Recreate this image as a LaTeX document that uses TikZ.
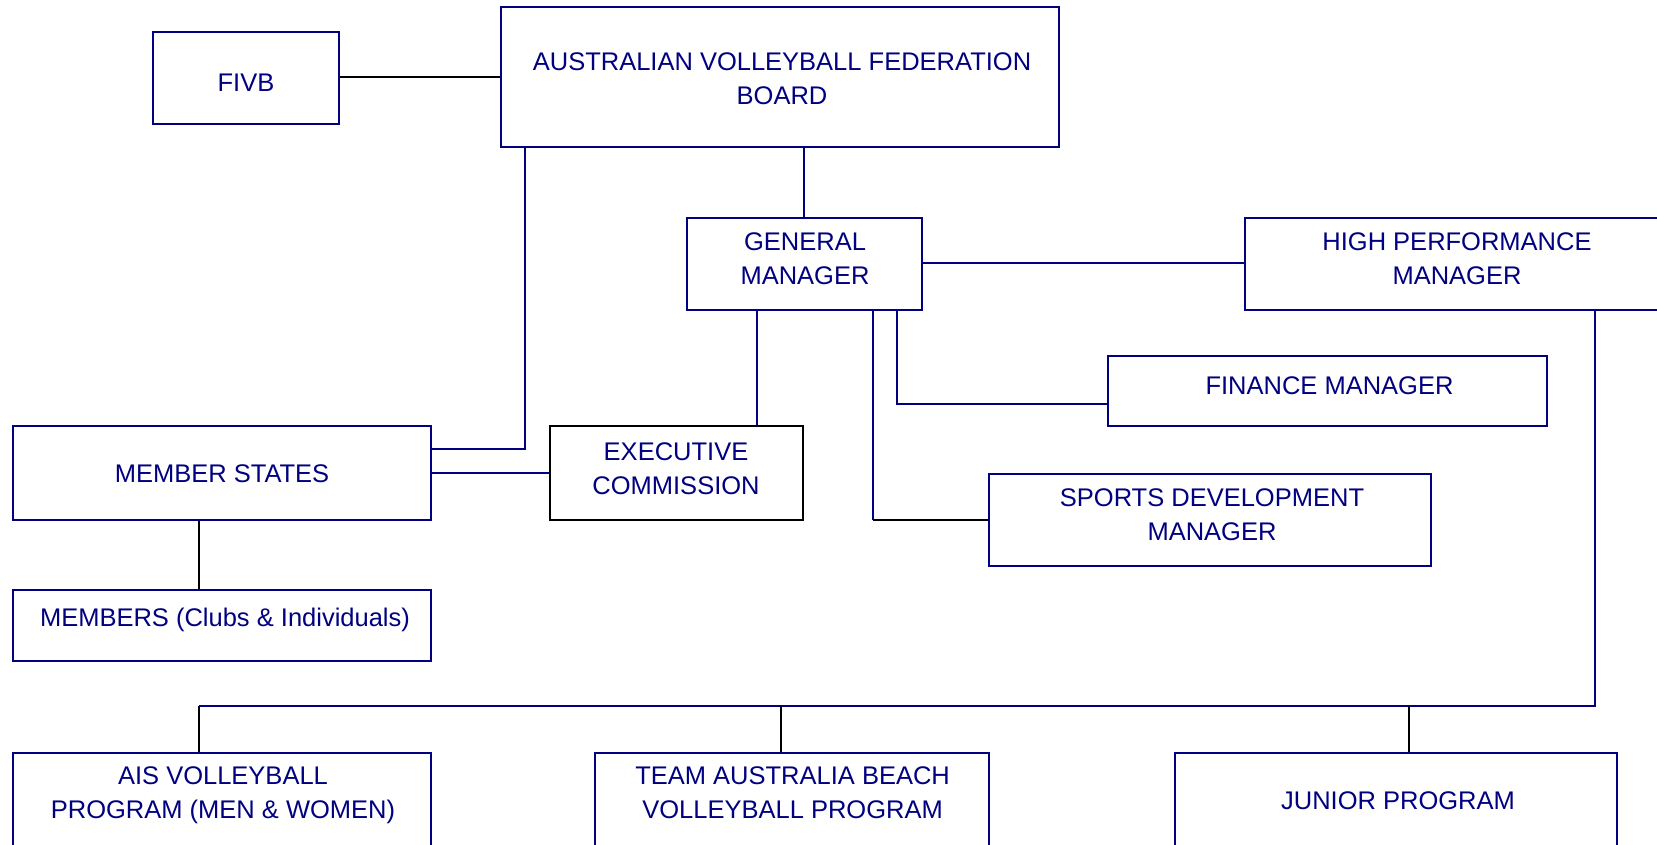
\documentclass[tikz,border=0pt]{standalone}
\usepackage{fontspec}
\setmainfont{Liberation Sans}
\definecolor{navy}{RGB}{0,0,128}
\tikzset{
  box/.style={draw=navy, line width=2pt, rectangle, inner sep=0pt, fill=white},
  blackbox/.style={box, draw=black},
  % labels are placed by the baseline of their last line
  txt/.style={text=navy, anchor=base, align=center, inner sep=0pt,
              font=\fontsize{25.5}{34}\selectfont},
  link/.style={draw=navy, line width=2pt},
  blink/.style={draw=black, line width=2pt},
}
\begin{document}
\begin{tikzpicture}[x=1pt,y=-1pt]
\clip (0,0) rectangle (1657,844);
\fill[white] (0,0) rectangle (1657,844);

% boxes
\node[box, minimum width=186pt, minimum height=92pt] (fivb) at (246,78) {};
\node[box, minimum width=558pt, minimum height=139.6pt] (avf) at (780,77.2) {};
\node[box, minimum width=234.5pt, minimum height=92pt] (gm) at (804.25,264) {};
\node[box, minimum width=425pt, minimum height=92pt] (hpm) at (1457.5,264) {};
\node[box, minimum width=439.5pt, minimum height=70pt] (fin) at (1327.25,391) {};
\node[box, minimum width=418.3pt, minimum height=94pt] (ms) at (221.85,473) {};
\node[blackbox, minimum width=253.5pt, minimum height=94pt] (exec) at (676.25,473) {};
\node[box, minimum width=442pt, minimum height=92.5pt] (sd) at (1210,519.75) {};
\node[box, minimum width=418.3pt, minimum height=70.5pt] (mem) at (221.85,625.25) {};
\node[box, minimum width=418.3pt, minimum height=117.5pt] (ais) at (221.85,811.25) {};
\node[box, minimum width=394pt, minimum height=117.5pt] (team) at (792,811.25) {};
\node[box, minimum width=442pt, minimum height=117.5pt] (jun) at (1396,811.25) {};

% labels
\node[txt] (fivb-t) at (246,91.5) {FIVB};
\node[txt] (avf-t) at (782,104) {AUSTRALIAN VOLLEYBALL FEDERATION\\BOARD};
\node[txt] (gm-t) at (805,284) {GENERAL\\MANAGER};
\node[txt] (hpm-t) at (1457,284) {HIGH PERFORMANCE\\MANAGER};
\node[txt] (fin-t) at (1329.5,394.8) {FINANCE MANAGER};
\node[txt] (ms-t) at (222,482.5) {MEMBER STATES};
\node[txt] (exec-t) at (676,494.5) {EXECUTIVE\\COMMISSION};
\node[txt] (sd-t) at (1212,540.5) {SPORTS DEVELOPMENT\\MANAGER};
\node[txt] (mem-t) at (225,626) {MEMBERS (Clubs \& Individuals)};
\node[txt] (ais-t) at (223,818.5) {AIS VOLLEYBALL\\PROGRAM (MEN \& WOMEN)};
\node[txt] (team-t) at (792.6,818.5) {TEAM AUSTRALIA BEACH\\VOLLEYBALL PROGRAM};
\node[txt] (jun-t) at (1398,809) {JUNIOR PROGRAM};

% routing columns and rows
\coordinate (cBoard) at (525.2,449);
\coordinate (cExec) at (756.7,0);
\coordinate (cFin) at (897.2,403.7);
\coordinate (cSd) at (873,0);
\coordinate (cMem) at (198.7,0);
\coordinate (cHp) at (1594.7,705.5);
\coordinate (cTeam) at (781,0);
\coordinate (cJun) at (1408.7,0);

% connectors
\path[blink] (fivb.east |- 0,77) -- (avf.west |- 0,77);
\path[link] (avf.south -| gm.north) -- (gm.north);
\path[link] (avf.south -| cBoard) |- (ms.east |- cBoard);
\path[link] (gm.south -| cExec) -- (exec.north -| cExec);
\path[link] (ms.east) -- (exec.west);
\path[link] (gm.east |- 0,263) -- (hpm.west |- 0,263);
\path[link] (gm.south -| cFin) |- (fin.west |- cFin);
\path[link] (gm.south -| cSd) -- (sd.west -| cSd);
\path[blink] (sd.west -| cSd) -- (sd.west);
\path[blink] (ms.south -| cMem) -- (mem.north -| cMem);
\path[link] (hpm.south -| cHp) -- (cHp) -- (cHp -| cMem);
\path[blink] (cHp -| cMem) -- (ais.north -| cMem);
\path[blink] (cHp -| cTeam) -- (team.north -| cTeam);
\path[blink] (cHp -| cJun) -- (jun.north -| cJun);
\end{tikzpicture}
\end{document}
